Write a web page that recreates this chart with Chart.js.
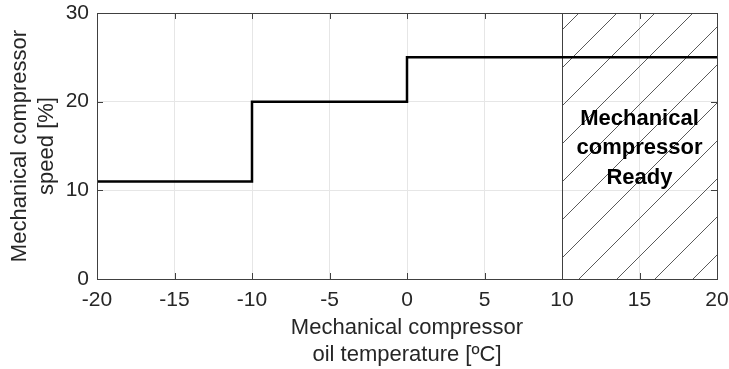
<!DOCTYPE html>
<html>
<head>
<meta charset="utf-8">
<script src="https://cdn.jsdelivr.net/npm/chart.js@4/dist/chart.umd.min.js"></script>
<style>
html,body{margin:0;padding:0;background:#fff;}
#wrap{width:729px;height:369px;}
</style>
</head>
<body>
<div id="wrap"><canvas id="c" width="729" height="369"></canvas></div>
<script>
// Step breakpoints (value holds until next breakpoint)
const tempBreaks = [-20, -10, 0, 20];
const speedValues = [11, 20, 25, 25];
const xTicks = [-20, -15, -10, -5, 0, 5, 10, 15, 20];
const yTicks = [0, 10, 20, 30];
const readyZone = [10, 20];
const readyLabel = ['Mechanical', 'compressor', 'Ready'];
const xTitle = ['Mechanical compressor', 'oil temperature [ºC]'];
const yTitle = ['Mechanical compressor', 'speed [%]'];

const FONT = '"Liberation Sans", Arial, Helvetica, sans-serif';
const TXT = '#262626';

const hatchPlugin = {
  id: 'hatch',
  beforeDatasetsDraw(chart) {
    const {ctx, chartArea: a, scales: {x, y}} = chart;
    const x0 = x.getPixelForValue(readyZone[0]);
    const x1 = x.getPixelForValue(readyZone[1]);
    const top = a.top, bot = a.bottom;
    ctx.save();
    ctx.beginPath();
    ctx.rect(x0, top, x1 - x0, bot - top);
    ctx.clip();
    ctx.strokeStyle = '#5a5a5a';
    ctx.lineWidth = 1;
    const sp = 38, off = 17;
    const h = bot - top;
    ctx.beginPath();
    for (let s = x0 + off - Math.ceil(h / sp) * sp; s < x1 + sp; s += sp) {
      ctx.moveTo(s, bot);
      ctx.lineTo(s + h, top);
    }
    ctx.stroke();
    ctx.restore();
    ctx.save();
    ctx.strokeStyle = '#404040';
    ctx.lineWidth = 1;
    ctx.beginPath();
    ctx.moveTo(Math.round(x0) + 0.5, top);
    ctx.lineTo(Math.round(x0) + 0.5, bot);
    ctx.stroke();
    ctx.restore();
  },
  afterDatasetsDraw(chart) {
    const {ctx, chartArea: a, scales: {x, y}} = chart;
    ctx.save();
    ctx.strokeStyle = '#404040';
    ctx.lineWidth = 1;
    ctx.strokeRect(Math.round(a.left) + 0.5, Math.round(a.top) + 0.5, Math.round(a.right - a.left), Math.round(a.bottom - a.top));
    const tl = 6;
    ctx.beginPath();
    xTicks.forEach(v => {
      const px = Math.round(x.getPixelForValue(v)) + 0.5;
      ctx.moveTo(px, a.bottom); ctx.lineTo(px, a.bottom - tl);
      ctx.moveTo(px, a.top); ctx.lineTo(px, a.top + tl);
    });
    yTicks.forEach(v => {
      const py = Math.round(y.getPixelForValue(v)) + 0.5;
      ctx.moveTo(a.left, py); ctx.lineTo(a.left + tl, py);
      ctx.moveTo(a.right, py); ctx.lineTo(a.right - tl, py);
    });
    ctx.stroke();
    const cx = x.getPixelForValue((readyZone[0] + readyZone[1]) / 2);
    ctx.fillStyle = '#000';
    ctx.font = 'bold 22px ' + FONT;
    ctx.textAlign = 'center';
    ctx.textBaseline = 'middle';
    const cy = y.getPixelForValue(14.75);
    readyLabel.forEach((t, i) => ctx.fillText(t, cx, cy + (i - 1) * 29.5));
    ctx.restore();
  }
};

new Chart(document.getElementById('c'), {
  type: 'line',
  data: {
    datasets: [{
      data: tempBreaks.map((t, i) => ({x: t, y: speedValues[i]})),
      borderColor: '#000',
      borderWidth: 2.5,
      pointRadius: 0,
      stepped: 'before',
      fill: false
    }]
  },
  options: {
    responsive: false,
    animation: false,
    devicePixelRatio: 1,
    layout: {padding: {left: 0, top: 13, right: 12, bottom: 0}},
    plugins: {legend: {display: false}, tooltip: {enabled: false}},
    scales: {
      x: {
        type: 'linear', min: -20, max: 20,
        afterBuildTicks: s => { s.ticks = xTicks.map(v => ({value: v})); },
        afterFit: s => { s.height = 90; s.paddingLeft = 0; s.paddingRight = 0; },
        grid: {color: '#e6e6e6', drawTicks: false},
        border: {display: false},
        ticks: {color: TXT, font: {family: FONT, size: 21}, padding: 9, maxRotation: 0, autoSkip: false},
        title: {display: true, text: xTitle, color: TXT, font: {family: FONT, size: 22, lineHeight: 1.2}, padding: {top: 0, bottom: 1}}
      },
      y: {
        type: 'linear', min: 0, max: 30,
        afterBuildTicks: s => { s.ticks = yTicks.map(v => ({value: v})); },
        afterFit: s => { s.width = 97; s.paddingTop = 0; s.paddingBottom = 0; },
        grid: {color: '#e6e6e6', drawTicks: false},
        border: {display: false},
        ticks: {color: TXT, font: {family: FONT, size: 21}, padding: 8},
        title: {display: true, text: yTitle, color: TXT, font: {family: FONT, size: 22, lineHeight: 1.2}, padding: {top: 7, bottom: 0}}
      }
    }
  },
  plugins: [hatchPlugin]
});
</script>
</body>
</html>
